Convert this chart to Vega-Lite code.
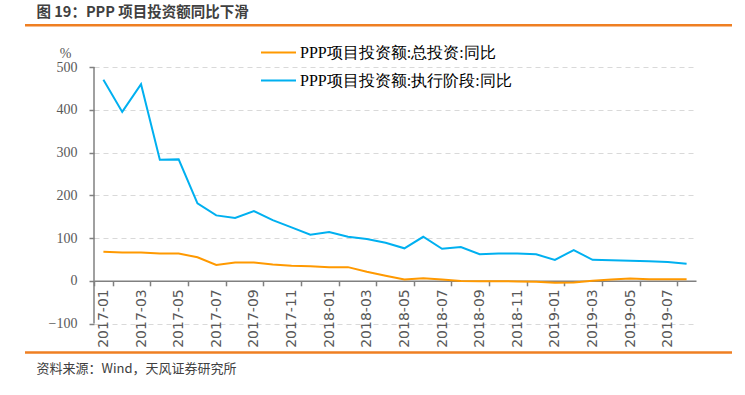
{
  "$schema": "https://vega.github.io/schema/vega-lite/v6.json",
  "autosize": "none",
  "width": 602,
  "height": 330.5,
  "padding": {"left": 94, "top": 23, "right": 49, "bottom": 41.5},
  "background": "white",
  "config": {"view": {"stroke": null}},
  "resolve": {"scale": {"x": "independent"}},
  "layer": [
    {
      "data": {"values": [
        {"month": "2017-01", "series": "PPP项目投资额:总投资:同比", "value": 68},
        {"month": "2017-02", "series": "PPP项目投资额:总投资:同比", "value": 66},
        {"month": "2017-03", "series": "PPP项目投资额:总投资:同比", "value": 66},
        {"month": "2017-04", "series": "PPP项目投资额:总投资:同比", "value": 64},
        {"month": "2017-05", "series": "PPP项目投资额:总投资:同比", "value": 64},
        {"month": "2017-06", "series": "PPP项目投资额:总投资:同比", "value": 55},
        {"month": "2017-07", "series": "PPP项目投资额:总投资:同比", "value": 37},
        {"month": "2017-08", "series": "PPP项目投资额:总投资:同比", "value": 43},
        {"month": "2017-09", "series": "PPP项目投资额:总投资:同比", "value": 43},
        {"month": "2017-10", "series": "PPP项目投资额:总投资:同比", "value": 38},
        {"month": "2017-11", "series": "PPP项目投资额:总投资:同比", "value": 35},
        {"month": "2017-12", "series": "PPP项目投资额:总投资:同比", "value": 34},
        {"month": "2018-01", "series": "PPP项目投资额:总投资:同比", "value": 32},
        {"month": "2018-02", "series": "PPP项目投资额:总投资:同比", "value": 32},
        {"month": "2018-03", "series": "PPP项目投资额:总投资:同比", "value": 21},
        {"month": "2018-04", "series": "PPP项目投资额:总投资:同比", "value": 12},
        {"month": "2018-05", "series": "PPP项目投资额:总投资:同比", "value": 3},
        {"month": "2018-06", "series": "PPP项目投资额:总投资:同比", "value": 6},
        {"month": "2018-07", "series": "PPP项目投资额:总投资:同比", "value": 3},
        {"month": "2018-08", "series": "PPP项目投资额:总投资:同比", "value": -0.5},
        {"month": "2018-09", "series": "PPP项目投资额:总投资:同比", "value": -1},
        {"month": "2018-10", "series": "PPP项目投资额:总投资:同比", "value": -1},
        {"month": "2018-11", "series": "PPP项目投资额:总投资:同比", "value": -1.5},
        {"month": "2018-12", "series": "PPP项目投资额:总投资:同比", "value": -2},
        {"month": "2019-01", "series": "PPP项目投资额:总投资:同比", "value": -4.5},
        {"month": "2019-02", "series": "PPP项目投资额:总投资:同比", "value": -4},
        {"month": "2019-03", "series": "PPP项目投资额:总投资:同比", "value": 0},
        {"month": "2019-04", "series": "PPP项目投资额:总投资:同比", "value": 3},
        {"month": "2019-05", "series": "PPP项目投资额:总投资:同比", "value": 5.5},
        {"month": "2019-06", "series": "PPP项目投资额:总投资:同比", "value": 3.5},
        {"month": "2019-07", "series": "PPP项目投资额:总投资:同比", "value": 3.5},
        {"month": "2019-08", "series": "PPP项目投资额:总投资:同比", "value": 3.5},
        {"month": "2017-01", "series": "PPP项目投资额:执行阶段:同比", "value": 470},
        {"month": "2017-02", "series": "PPP项目投资额:执行阶段:同比", "value": 395},
        {"month": "2017-03", "series": "PPP项目投资额:执行阶段:同比", "value": 460},
        {"month": "2017-04", "series": "PPP项目投资额:执行阶段:同比", "value": 283},
        {"month": "2017-05", "series": "PPP项目投资额:执行阶段:同比", "value": 284},
        {"month": "2017-06", "series": "PPP项目投资额:执行阶段:同比", "value": 181},
        {"month": "2017-07", "series": "PPP项目投资额:执行阶段:同比", "value": 153},
        {"month": "2017-08", "series": "PPP项目投资额:执行阶段:同比", "value": 147},
        {"month": "2017-09", "series": "PPP项目投资额:执行阶段:同比", "value": 163},
        {"month": "2017-10", "series": "PPP项目投资额:执行阶段:同比", "value": 142},
        {"month": "2017-11", "series": "PPP项目投资额:执行阶段:同比", "value": 125},
        {"month": "2017-12", "series": "PPP项目投资额:执行阶段:同比", "value": 108},
        {"month": "2018-01", "series": "PPP项目投资额:执行阶段:同比", "value": 114},
        {"month": "2018-02", "series": "PPP项目投资额:执行阶段:同比", "value": 103},
        {"month": "2018-03", "series": "PPP项目投资额:执行阶段:同比", "value": 98},
        {"month": "2018-04", "series": "PPP项目投资额:执行阶段:同比", "value": 89},
        {"month": "2018-05", "series": "PPP项目投资额:执行阶段:同比", "value": 76},
        {"month": "2018-06", "series": "PPP项目投资额:执行阶段:同比", "value": 103},
        {"month": "2018-07", "series": "PPP项目投资额:执行阶段:同比", "value": 75},
        {"month": "2018-08", "series": "PPP项目投资额:执行阶段:同比", "value": 79},
        {"month": "2018-09", "series": "PPP项目投资额:执行阶段:同比", "value": 62},
        {"month": "2018-10", "series": "PPP项目投资额:执行阶段:同比", "value": 64},
        {"month": "2018-11", "series": "PPP项目投资额:执行阶段:同比", "value": 64},
        {"month": "2018-12", "series": "PPP项目投资额:执行阶段:同比", "value": 62},
        {"month": "2019-01", "series": "PPP项目投资额:执行阶段:同比", "value": 49},
        {"month": "2019-02", "series": "PPP项目投资额:执行阶段:同比", "value": 72},
        {"month": "2019-03", "series": "PPP项目投资额:执行阶段:同比", "value": 49},
        {"month": "2019-04", "series": "PPP项目投资额:执行阶段:同比", "value": 48},
        {"month": "2019-05", "series": "PPP项目投资额:执行阶段:同比", "value": 47},
        {"month": "2019-06", "series": "PPP项目投资额:执行阶段:同比", "value": 45.5},
        {"month": "2019-07", "series": "PPP项目投资额:执行阶段:同比", "value": 44},
        {"month": "2019-08", "series": "PPP项目投资额:执行阶段:同比", "value": 40}
      ]},
      "mark": {"type": "line", "strokeWidth": 2},
      "encoding": {
        "x": {
          "field": "month", "type": "ordinal",
          "scale": {"type": "band", "paddingInner": 0, "paddingOuter": 0},
          "axis": {
            "values": ["2017-01", "2017-03", "2017-05", "2017-07", "2017-09", "2017-11", "2018-01", "2018-03", "2018-05", "2018-07", "2018-09", "2018-11", "2019-01", "2019-03", "2019-05", "2019-07"],
            "tickBand": "extent",
            "labelAngle": 270,
            "offset": -72.7,
            "grid": false,
            "domainColor": "#808080", "domainWidth": 1.5,
            "tickColor": "#808080", "tickWidth": 1.5, "tickSize": 5,
            "labelFont": "DejaVu Sans", "labelFontSize": 14, "labelColor": "#595959", "labelPadding": 3,
            "title": "资料来源：Wind，天风证券研究所",
            "titleX": -58, "titleY": 87.2, "titleAlign": "left", "titleBaseline": "middle", "titleAngle": 0,
            "titleFont": "Noto Sans CJK SC", "titleFontSize": 13, "titleFontWeight": "normal", "titleColor": "#404040"
          }
        },
        "y": {
          "field": "value", "type": "quantitative",
          "scale": {"domain": [-170, 603], "nice": false, "zero": false},
          "axis": {
            "values": [-100, 0, 100, 200, 300, 400, 500],
            "title": "%", "titleAngle": 0, "titleX": -29, "titleY": 30,
            "titleAlign": "center", "titleBaseline": "middle",
            "titleFont": "Liberation Serif", "titleFontSize": 14, "titleFontWeight": "normal", "titleColor": "#595959",
            "labelFont": "Liberation Serif", "labelFontSize": 14, "labelColor": "#595959", "labelPadding": 12,
            "domain": false,
            "tickColor": "#808080", "tickWidth": 1.5, "tickSize": 5,
            "grid": true, "gridColor": "#D9D9D9", "gridDash": [5, 4], "gridWidth": 1
          }
        },
        "color": {
          "field": "series", "type": "nominal",
          "scale": {"domain": ["PPP项目投资额:总投资:同比", "PPP项目投资额:执行阶段:同比"], "range": ["#FF9900", "#00B0F0"]},
          "legend": {
            "title": null, "orient": "none", "legendX": 166, "legendY": 11,
            "symbolType": "stroke", "symbolSize": 1225, "symbolStrokeWidth": 2,
            "labelFont": "Liberation Serif", "labelFontSize": 16, "labelColor": "#000000", "labelOffset": 3, "labelLimit": 400,
            "rowPadding": 1, "padding": 0
          }
        }
      }
    },
    {
      "data": {"values": [{"part": "y axis line"}]},
      "mark": {"type": "rule", "color": "#808080", "strokeWidth": 1.5},
      "encoding": {
        "x": {
          "datum": 0, "type": "quantitative",
          "scale": {"domain": [0, 1], "nice": false, "zero": false},
          "axis": null
        },
        "y": {"datum": -100, "type": "quantitative"},
        "y2": {"datum": 500}
      }
    },
    {
      "data": {"values": [{"part": "header rule"}]},
      "mark": {"type": "rule", "color": "#EF7F22", "strokeWidth": 2.5, "strokeCap": "butt"},
      "encoding": {
        "x": {
          "datum": -0.1146, "type": "quantitative",
          "scale": {"domain": [0, 1], "nice": false, "zero": false},
          "axis": {
            "orient": "top", "domain": false, "ticks": false, "labels": false, "grid": false,
            "title": "图 19：PPP 项目投资额同比下滑",
            "titleX": -58, "titleY": -11, "titleAlign": "left", "titleBaseline": "middle", "titleAngle": 0,
            "titleFont": "Noto Sans CJK SC", "titleFontSize": 14.5, "titleFontWeight": "bold", "titleColor": "#404040"
          }
        },
        "x2": {"datum": 1.0598},
        "y": {"datum": 598, "type": "quantitative"}
      }
    },
    {
      "data": {"values": [{"part": "footer rule"}]},
      "mark": {"type": "rule", "color": "#EF7F22", "strokeWidth": 2.5, "strokeCap": "butt"},
      "encoding": {
        "x": {
          "datum": -0.1146, "type": "quantitative",
          "scale": {"domain": [0, 1], "nice": false, "zero": false},
          "axis": null
        },
        "x2": {"datum": 1.0598},
        "y": {"datum": -167.7, "type": "quantitative"}
      }
    }
  ]
}
